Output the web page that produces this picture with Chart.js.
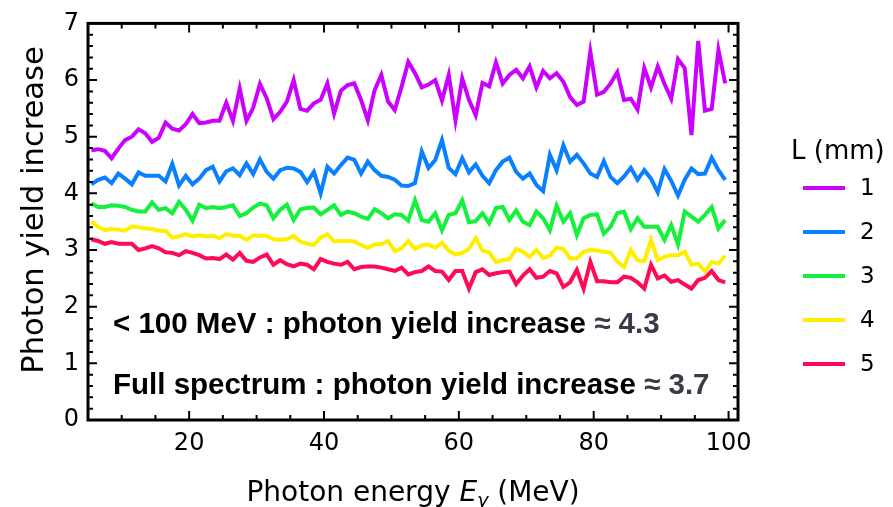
<!DOCTYPE html>
<html>
<head>
<meta charset="utf-8">
<script src="https://cdn.jsdelivr.net/npm/chart.js@4.4.0/dist/chart.umd.min.js"></script>
<style>
  html, body { margin: 0; padding: 0; background: #fff; }
</style>
</head>
<body>
<canvas id="grafico" width="893" height="507"></canvas>
<script>
// ENERGIA DO FOTON (MeV) - centro de cada bin
const energias = [
  5.5, 6.5, 7.5, 8.5, 9.5, 10.5, 11.5, 12.5, 13.5, 14.5, 15.5, 16.5, 17.5, 18.5, 19.5, 20.5,
  21.5, 22.5, 23.5, 24.5, 25.5, 26.5, 27.5, 28.5, 29.5, 30.5, 31.5, 32.5, 33.5, 34.5, 35.5, 36.5, 37.5,
  38.5, 39.5, 40.5, 41.5, 42.5, 43.5, 44.5, 45.5, 46.5, 47.5, 48.5, 49.5, 50.5, 51.5, 52.5,
  53.5, 54.5, 55.5, 56.5, 57.5, 58.5, 59.5, 60.5, 61.5, 62.5, 63.5, 64.5, 65.5, 66.5, 67.5, 68.5,
  69.5, 70.5, 71.5, 72.5, 73.5, 74.5, 75.5, 76.5, 77.5, 78.5, 79.5, 80.5, 81.5, 82.5, 83.5, 84.5,
  85.5, 86.5, 87.5, 88.5, 89.5, 90.5, 91.5, 92.5, 93.5, 94.5, 95.5, 96.5, 97.5, 98.5, 99.5,
];

// AUMENTO DO RENDIMENTO - L = 1 mm
const serieL1 = [
  4.76, 4.78, 4.75, 4.62, 4.79, 4.94, 5.0, 5.13, 5.06, 4.91, 4.98, 5.25, 5.14, 5.11, 5.22, 5.4,
  5.24, 5.25, 5.28, 5.28, 5.6, 5.28, 5.85, 5.28, 5.51, 5.93, 5.68, 5.31, 5.44, 5.62, 6.0, 5.49, 5.46,
  5.59, 5.65, 5.94, 5.41, 5.81, 5.91, 5.94, 5.65, 5.29, 5.82, 6.09, 5.62, 5.47, 5.88, 6.32,
  6.12, 5.87, 5.92, 6.0, 5.64, 6.09, 5.29, 6.03, 5.65, 5.38, 5.95, 5.89, 6.31, 5.94, 6.09, 6.18,
  6.03, 6.24, 5.87, 6.16, 6.03, 6.12, 5.97, 5.7, 5.56, 5.62, 6.5, 5.74, 5.79, 5.94, 6.14, 5.65,
  5.67, 5.48, 6.21, 5.87, 6.24, 5.93, 5.67, 6.37, 6.21, 5.03, 6.69, 5.46, 5.49, 6.53, 5.94,
];

// L = 2 mm
const serieL2 = [
  4.16, 4.24, 4.28, 4.18, 4.35, 4.26, 4.16, 4.37, 4.31, 4.31, 4.31, 4.21, 4.52, 4.14, 4.31, 4.16,
  4.26, 4.41, 4.47, 4.21, 4.39, 4.44, 4.32, 4.53, 4.34, 4.6, 4.38, 4.26, 4.41, 4.45, 4.44, 4.38, 4.2,
  4.38, 4.0, 4.47, 4.35, 4.5, 4.63, 4.59, 4.35, 4.56, 4.41, 4.31, 4.29, 4.24, 4.14, 4.13,
  4.18, 4.74, 4.45, 4.59, 4.94, 4.45, 4.34, 4.62, 4.37, 4.51, 4.31, 4.18, 4.41, 4.56, 4.63, 4.38,
  4.26, 4.35, 4.15, 4.04, 4.68, 4.41, 4.85, 4.56, 4.68, 4.53, 4.35, 4.29, 4.57, 4.29, 4.18, 4.3,
  4.45, 4.24, 4.41, 4.26, 4.02, 4.43, 4.22, 3.96, 4.24, 4.44, 4.34, 4.35, 4.63, 4.41, 4.24,
];

// L = 3 mm
const serieL3 = [
  3.82, 3.76, 3.76, 3.79, 3.78, 3.76, 3.71, 3.68, 3.68, 3.84, 3.71, 3.74, 3.65, 3.85, 3.71, 3.52,
  3.8, 3.74, 3.76, 3.74, 3.76, 3.79, 3.6, 3.65, 3.75, 3.82, 3.79, 3.56, 3.71, 3.8, 3.53, 3.72, 3.74,
  3.75, 3.63, 3.71, 3.79, 3.62, 3.68, 3.65, 3.59, 3.55, 3.72, 3.65, 3.56, 3.63, 3.62, 3.52,
  3.88, 3.53, 3.5, 3.65, 3.35, 3.62, 3.65, 3.88, 3.49, 3.51, 3.65, 3.47, 3.74, 3.76, 3.53, 3.7,
  3.5, 3.44, 3.68, 3.56, 3.35, 3.78, 3.5, 3.65, 3.26, 3.56, 3.62, 3.63, 3.29, 3.41, 3.65, 3.68,
  3.37, 3.56, 3.41, 3.41, 3.41, 3.18, 3.44, 3.1, 3.68, 3.59, 3.5, 3.62, 3.76, 3.38, 3.53,
];

// L = 4 mm
const serieL4 = [
  3.5, 3.41, 3.35, 3.37, 3.36, 3.34, 3.42, 3.4, 3.38, 3.37, 3.34, 3.34, 3.22, 3.24, 3.28, 3.24,
  3.26, 3.24, 3.25, 3.21, 3.28, 3.25, 3.25, 3.18, 3.26, 3.25, 3.25, 3.19, 3.18, 3.19, 3.25, 3.15, 3.11,
  3.09, 3.22, 3.28, 3.15, 3.16, 3.16, 3.15, 3.09, 3.04, 3.1, 3.1, 3.16, 2.98, 3.03, 3.16,
  3.02, 3.08, 3.1, 3.04, 3.13, 2.99, 2.92, 2.95, 3.02, 3.21, 2.99, 2.96, 2.79, 2.82, 2.84, 3.02,
  2.97, 2.88, 3.0, 2.86, 2.9, 3.04, 3.02, 2.85, 2.85, 2.97, 3.0, 2.99, 2.97, 2.96, 2.79, 2.7,
  3.0, 2.82, 2.8, 3.18, 2.82, 2.88, 2.91, 2.91, 2.97, 2.74, 2.76, 2.62, 2.79, 2.76, 2.9,
];

// L = 5 mm
const serieL5 = [
  3.19, 3.16, 3.11, 3.14, 3.11, 3.11, 3.11, 3.0, 3.03, 3.07, 3.03, 2.96, 2.95, 2.91, 2.98, 2.95,
  2.91, 2.85, 2.86, 2.84, 2.92, 2.83, 2.95, 2.81, 2.79, 2.87, 2.92, 2.74, 2.82, 2.75, 2.71, 2.76, 2.74,
  2.66, 2.84, 2.79, 2.76, 2.74, 2.79, 2.66, 2.7, 2.71, 2.71, 2.69, 2.66, 2.63, 2.69, 2.57,
  2.61, 2.63, 2.71, 2.63, 2.62, 2.47, 2.63, 2.63, 2.32, 2.61, 2.66, 2.56, 2.59, 2.61, 2.62, 2.4,
  2.55, 2.66, 2.51, 2.53, 2.63, 2.59, 2.35, 2.43, 2.65, 2.32, 2.79, 2.45, 2.45, 2.43, 2.43, 2.53,
  2.51, 2.43, 2.32, 2.74, 2.5, 2.55, 2.44, 2.47, 2.39, 2.32, 2.47, 2.51, 2.63, 2.47, 2.43,
];

const rotulosL = ["1", "2", "3", "4", "5"];
const coresL = ["#cc00ff", "#0a80ff", "#14f03c", "#ffee00", "#ff0a55"];
const seriesL = [serieL1, serieL2, serieL3, serieL4, serieL5];

// TICKS DOS EIXOS
const ticksX = [20, 40, 60, 80, 100];
const ticksY = [0, 1, 2, 3, 4, 5, 6, 7];

// TEXTOS
const tituloY = "Photon yield increase";
const texto1 = "< 100 MeV : photon yield increase ";
const valor1 = "\u2248 4.3";
const texto2 = "Full spectrum : photon yield increase ";
const valor2 = "\u2248 3.7";

const fonteEixo = "'DejaVu Sans', sans-serif";

// MOLDURA PRETA COM TICKS PARA DENTRO
const moldura = {
  id: "moldura",
  afterDatasetsDraw(chart) {
    const ctx = chart.ctx;
    const a = chart.chartArea;
    const sx = chart.scales.x;
    const sy = chart.scales.y;
    ctx.save();
    ctx.strokeStyle = "#000";
    ctx.lineWidth = 3;
    ctx.strokeRect(a.left, a.top, a.right - a.left, a.bottom - a.top);

    ctx.lineWidth = 2;
    ctx.beginPath();
    // ticks x a cada 5 MeV
    for (let v = 10; v <= 100; v += 5) {
      const px = sx.getPixelForValue(v);
      const len = ticksX.includes(v) ? 9 : 5;
      ctx.moveTo(px, a.bottom);
      ctx.lineTo(px, a.bottom - len);
      ctx.moveTo(px, a.top);
      ctx.lineTo(px, a.top + len);
    }
    // ticks y a cada 0.2
    for (let i = 1; i < 35; i++) {
      const v = i / 5;
      const py = sy.getPixelForValue(v);
      const len = i % 5 === 0 ? 9 : 5;
      ctx.moveTo(a.left, py);
      ctx.lineTo(a.left + len, py);
      ctx.moveTo(a.right, py);
      ctx.lineTo(a.right - len, py);
    }
    ctx.stroke();
    ctx.restore();
  },
};

// LEGENDA L (mm)
const legenda = {
  id: "legenda",
  afterDraw(chart) {
    const ctx = chart.ctx;
    ctx.save();
    ctx.fillStyle = "#000";
    ctx.textAlign = "left";
    ctx.textBaseline = "alphabetic";
    ctx.font = "26px " + fonteEixo;
    ctx.fillText("L (mm)", 791, 159);
    chart.data.datasets.forEach((ds, i) => {
      const y = 188 + i * 44;
      ctx.strokeStyle = ds.borderColor;
      ctx.lineWidth = 4;
      ctx.beginPath();
      ctx.moveTo(803, y);
      ctx.lineTo(845, y);
      ctx.stroke();
      ctx.font = "23px " + fonteEixo;
      ctx.textBaseline = "middle";
      ctx.fillText(ds.label, 860, y + 1);
      ctx.textBaseline = "alphabetic";
    });
    ctx.restore();
  },
};

// ANOTACOES E TITULOS DOS EIXOS
const textos = {
  id: "textos",
  afterDraw(chart) {
    const ctx = chart.ctx;
    const a = chart.chartArea;
    ctx.save();
    ctx.textAlign = "left";
    ctx.textBaseline = "alphabetic";
    ctx.font = "bold 29.5px 'Liberation Sans', Arial, sans-serif";

    const linhas = [
      [texto1, valor1, 333],
      [texto2, valor2, 394],
    ];
    linhas.forEach(([t, v, y]) => {
      const x0 = a.left + 25;
      ctx.fillStyle = "#000";
      ctx.fillText(t, x0, y);
      ctx.fillStyle = "#3a3a48";
      ctx.fillText(v, x0 + ctx.measureText(t).width, y);
    });

    // titulo y, rotacionado
    ctx.save();
    ctx.fillStyle = "#000";
    ctx.translate(35, 210);
    ctx.rotate(-Math.PI / 2);
    ctx.textAlign = "center";
    ctx.textBaseline = "middle";
    ctx.font = "30.5px " + fonteEixo;
    ctx.fillText(tituloY, 0, 0);
    ctx.restore();

    // Photon energy E_gamma (MeV)
    const partes = [
      ["Photon energy ", "28px " + fonteEixo, 0],
      ["E", "italic 28px " + fonteEixo, 0],
      ["\u03b3", "italic 19px " + fonteEixo, 6],
      [" (MeV)", "28px " + fonteEixo, 0],
    ];
    let total = 0;
    partes.forEach((p) => {
      ctx.font = p[1];
      total += ctx.measureText(p[0]).width;
    });
    let x = (a.left + a.right) / 2 - total / 2;
    ctx.fillStyle = "#000";
    partes.forEach((p) => {
      ctx.font = p[1];
      ctx.fillText(p[0], x, 501 + p[2]);
      x += ctx.measureText(p[0]).width;
    });
    ctx.restore();
  },
};

const ctx = document.getElementById("grafico").getContext("2d");
new Chart(ctx, {
  type: "line",
  data: {
    datasets: seriesL.map((serie, i) => ({
      label: rotulosL[i],
      data: serie.map((v, j) => ({ x: energias[j], y: v })),
      borderColor: coresL[i],
      backgroundColor: coresL[i],
      borderWidth: 4,
      pointRadius: 0,
      tension: 0,
      fill: false,
    })),
  },
  options: {
    responsive: false,
    animation: false,
    layout: {
      padding: { left: 0, right: 155, top: 20, bottom: 0 },
    },
    plugins: {
      legend: { display: false },
      tooltip: { enabled: false },
    },
    scales: {
      x: {
        type: "linear",
        min: 5,
        max: 101.4,
        grid: { display: false, drawTicks: false },
        border: { display: false },
        afterBuildTicks: (axis) => {
          axis.ticks = ticksX.map((v) => ({ value: v }));
        },
        afterFit: (scale) => {
          scale.height = 87;
        },
        ticks: {
          color: "#000",
          padding: 9,
          maxRotation: 0,
          font: { size: 24, family: fonteEixo },
        },
      },
      y: {
        min: 0,
        max: 7,
        grid: { display: false, drawTicks: false },
        border: { display: false },
        afterBuildTicks: (axis) => {
          axis.ticks = ticksY.map((v) => ({ value: v }));
        },
        afterFit: (scale) => {
          scale.width = 88;
        },
        ticks: {
          color: "#000",
          padding: 9,
          font: { size: 24, family: fonteEixo },
        },
      },
    },
  },
  plugins: [moldura, legenda, textos],
});
</script>
</body>
</html>
